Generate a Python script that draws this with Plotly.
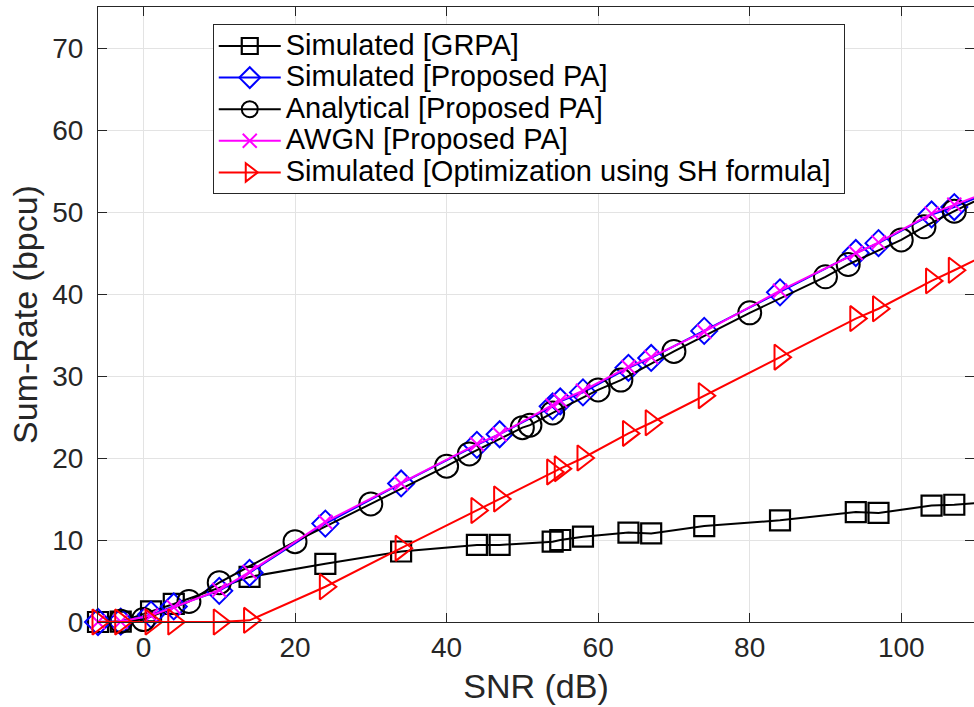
import plotly.graph_objects as go

# ---- data ----
snr_grpa = [-6, -3, 1, 4, 14, 24, 34, 44, 47, 54, 55, 58, 64, 67, 74, 84, 94, 97, 104, 107, 111]
rate_grpa = [0.0, 0.05, 1.3, 2.2, 5.5, 7.1, 8.6, 9.4, 9.4, 9.8, 10.0, 10.4, 10.9, 10.8, 11.7, 12.4,
             13.4, 13.3, 14.2, 14.3, 14.6]

snr_sim = [-6, -3, 1, 4, 10, 14, 24, 34, 44, 47, 54, 55, 58, 64, 67, 74, 84, 94, 97, 104, 107, 111]
rate_prop = [0.0, 0.05, 0.9, 1.9, 3.8, 6.0, 12.0, 16.9, 21.6, 22.9, 26.3, 26.9, 28.0, 31.0, 32.2,
             35.5, 40.2, 45.0, 46.2, 49.7, 50.6, 52.2]
rate_awgn = [0.0, 0.05, 0.8, 1.8, 3.9, 6.1, 12.2, 16.9, 21.7, 22.9, 26.4, 27.0, 28.2, 31.1, 32.3,
             35.4, 40.4, 45.0, 46.3, 49.8, 50.9, 52.3]
rate_sh = [0.0, 0.0, 0.0, 0.0, 0.0, 0.2, 4.3, 9.0, 13.6, 15.0, 18.3, 18.7, 20.0, 23.0, 24.3,
           27.6, 32.3, 37.0, 38.2, 41.6, 42.9, 44.7]

snr_ana = [-3, 0, 6, 10, 20, 30, 40, 43, 50, 51, 54, 60, 63, 70, 80, 90, 93, 100, 103, 107, 111]
rate_ana = [0.1, 0.3, 2.5, 4.8, 9.8, 14.4, 19.0, 20.5, 23.7, 24.0, 25.5, 28.3, 29.5, 33.0, 37.7,
            42.1, 43.6, 46.6, 48.2, 50.1, 51.9]

x_ticks = [0, 20, 40, 60, 80, 100]
y_ticks = [0, 10, 20, 30, 40, 50, 60, 70]

names = ["Simulated [GRPA]", "Simulated [Proposed PA]", "Analytical [Proposed PA]",
         "AWGN [Proposed PA]", "Simulated [Optimization using SH formula]"]

FONT = "Liberation Sans, Arial, Helvetica, sans-serif"
AX = "#262626"


def lg(s):
    return '<span style="font-size:29px">' + s + '</span>'


fig = go.Figure()
fig.add_trace(go.Scatter(x=snr_grpa, y=rate_grpa, name=lg(names[0]), mode="lines+markers",
                         line=dict(color="black", width=2),
                         marker=dict(symbol="square-open", size=20, color="black",
                                     line=dict(width=2.2, color="black")),
                         cliponaxis=False))
fig.add_trace(go.Scatter(x=snr_sim, y=rate_prop, name=lg(names[1]), mode="lines+markers",
                         line=dict(color="#0000ff", width=2),
                         marker=dict(symbol="diamond-open", size=20, color="#0000ff",
                                     line=dict(width=2, color="#0000ff")),
                         cliponaxis=False))
fig.add_trace(go.Scatter(x=snr_ana, y=rate_ana, name=lg(names[2]), mode="lines+markers",
                         line=dict(color="black", width=2),
                         marker=dict(symbol="circle-open", size=23, color="black",
                                     line=dict(width=2, color="black")),
                         cliponaxis=False))
fig.add_trace(go.Scatter(x=snr_sim, y=rate_awgn, name=lg(names[3]), mode="lines+markers",
                         line=dict(color="#ff00ff", width=2),
                         marker=dict(symbol="x-thin-open", size=14, color="#ff00ff",
                                     line=dict(width=2, color="#ff00ff")),
                         cliponaxis=False))
fig.add_trace(go.Scatter(x=snr_sim, y=rate_sh, name=lg(names[4] + "&#160;"), mode="lines+markers",
                         line=dict(color="#ff0000", width=2),
                         marker=dict(symbol="triangle-right-open", size=22, color="#ff0000",
                                     line=dict(width=2, color="#ff0000")),
                         cliponaxis=False))

fig.update_layout(
    width=974, height=707,
    margin=dict(l=98, r=0, t=7, b=85),
    paper_bgcolor="white", plot_bgcolor="white",
    font=dict(family=FONT, color=AX, size=27),
    showlegend=True,
    legend=dict(x=0.131, y=0.972, xanchor="left", yanchor="top",
                bgcolor="white", bordercolor=AX, borderwidth=1,
                font=dict(family=FONT, size=22, color="black"),
                itemwidth=62, tracegroupgap=0),
    xaxis=dict(range=[-6, 109.6], tickvals=x_ticks, ticktext=[str(v) for v in x_ticks],
               showgrid=True, gridcolor="#e3e3e3", gridwidth=1, zeroline=False,
               showline=True, linecolor=AX, linewidth=1, mirror="ticks",
               ticks="inside", ticklen=9, tickcolor=AX, tickwidth=1,
               tickfont=dict(family=FONT, size=28, color=AX),
               title=dict(text="SNR (dB)", font=dict(family=FONT, size=34, color=AX), standoff=12)),
    yaxis=dict(range=[0, 75], tickvals=y_ticks, ticktext=[str(v) for v in y_ticks],
               showgrid=True, gridcolor="#e3e3e3", gridwidth=1, zeroline=False,
               showline=True, linecolor=AX, linewidth=1, mirror="ticks",
               ticks="inside", ticklen=9, tickcolor=AX, tickwidth=1,
               ticklabelstandoff=8,
               tickfont=dict(family=FONT, size=28, color=AX),
               title=dict(text="Sum-Rate (bpcu)", font=dict(family=FONT, size=34, color=AX), standoff=4)),
)

fig.write_html("out.html", config={"displayModeBar": False},
               post_script="document.body.style.margin='0px';")
